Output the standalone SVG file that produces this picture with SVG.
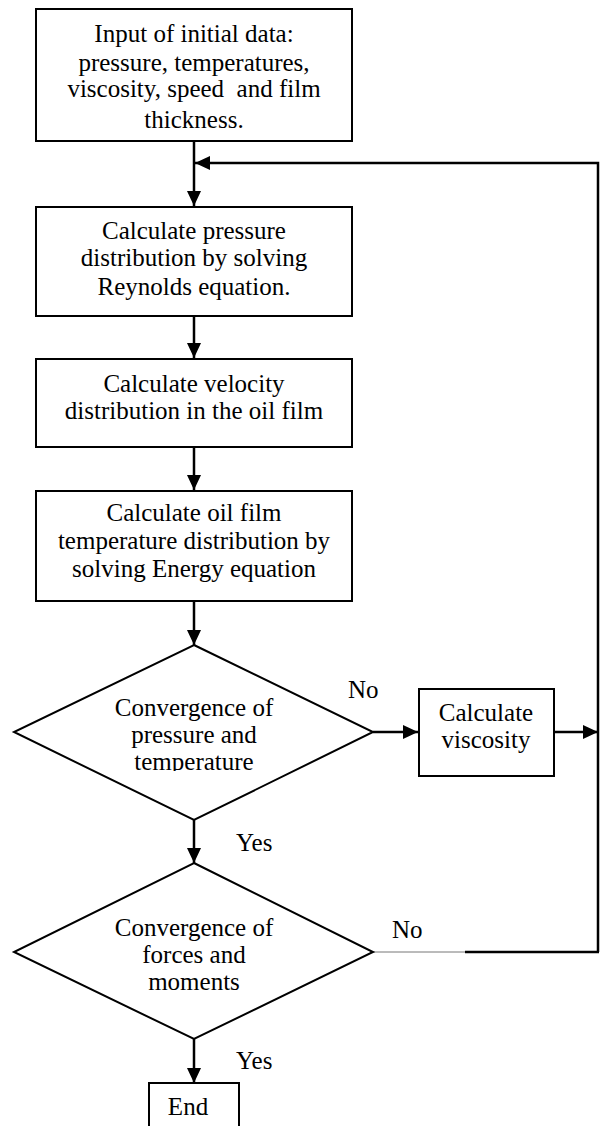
<svg xmlns="http://www.w3.org/2000/svg" width="602" height="1126" viewBox="0 0 602 1126">
<style>
.box{fill:#fff;stroke:#000;stroke-width:2}
.t{font-family:"Liberation Serif","Times New Roman",serif;font-size:25px;fill:#000;text-anchor:middle}
.l{font-family:"Liberation Serif","Times New Roman",serif;font-size:25px;fill:#000}
.c{fill:none;stroke:#000;stroke-width:2.5}
</style>
<defs>
<marker id="ah" markerUnits="userSpaceOnUse" markerWidth="16" markerHeight="14" refX="15" refY="7" orient="auto">
<path d="M0,0 L15,7 L0,14 Z" fill="#000"/>
</marker>
<clipPath id="clipT"><rect x="0" y="640" width="400" height="131"/></clipPath>
</defs>
<rect width="602" height="1126" fill="#fff"/>
<g id="connectors">
<line class="c" x1="194" y1="141" x2="194" y2="206" marker-end="url(#ah)"/>
<polyline class="c" points="598,952 598,163 195,163" marker-end="url(#ah)"/>
<line class="c" x1="194" y1="316" x2="194" y2="358" marker-end="url(#ah)"/>
<line class="c" x1="194" y1="447" x2="194" y2="490" marker-end="url(#ah)"/>
<line class="c" x1="194" y1="601" x2="194" y2="645" marker-end="url(#ah)"/>
<line class="c" x1="373" y1="732" x2="418" y2="732" marker-end="url(#ah)"/>
<line class="c" x1="554" y1="732" x2="598" y2="732" marker-end="url(#ah)"/>
<line class="c" x1="194" y1="820" x2="194" y2="863" marker-end="url(#ah)"/>
<line class="c" x1="194" y1="1039" x2="194" y2="1083" marker-end="url(#ah)"/>
<line x1="373" y1="952" x2="465" y2="952" stroke="#777" stroke-width="1"/>
<line class="c" x1="465" y1="952" x2="599" y2="952"/>
<text class="l" x="348" y="698">No</text>
<text class="l" x="392" y="938">No</text>
<text class="l" x="236" y="851">Yes</text>
<text class="l" x="236" y="1069">Yes</text>
</g>
<g id="input">
<rect class="box" x="36" y="9" width="316" height="132"/>
<text class="t" x="194" y="42">Input of initial data:</text>
<text class="t" x="194" y="71">pressure, temperatures,</text>
<text class="t" x="194" y="97" style="white-space:pre">viscosity, speed  and film</text>
<text class="t" x="194" y="128">thickness.</text>
</g>
<g id="pressure">
<rect class="box" x="36" y="207" width="316" height="109"/>
<text class="t" x="194" y="239">Calculate pressure</text>
<text class="t" x="194" y="266">distribution by solving</text>
<text class="t" x="194" y="295">Reynolds equation.</text>
</g>
<g id="velocity">
<rect class="box" x="36" y="359" width="316" height="88"/>
<text class="t" x="194" y="392">Calculate velocity</text>
<text class="t" x="194" y="419">distribution in the oil film</text>
</g>
<g id="temperature">
<rect class="box" x="36" y="491" width="316" height="110"/>
<text class="t" x="194" y="521">Calculate oil film</text>
<text class="t" x="194" y="549">temperature distribution by</text>
<text class="t" x="194" y="577">solving Energy equation</text>
</g>
<g id="conv1">
<polygon class="box" points="194,645 373,732 194,820 14,732"/>
<g clip-path="url(#clipT)">
<text class="t" x="194" y="716">Convergence of</text>
<text class="t" x="194" y="743">pressure and</text>
<text class="t" x="194" y="770">temperature</text>
</g>
</g>
<g id="viscosity">
<rect class="box" x="419" y="689" width="135" height="87"/>
<text class="t" x="486" y="721">Calculate</text>
<text class="t" x="486" y="748">viscosity</text>
</g>
<g id="conv2">
<polygon class="box" points="194,863 373,952 194,1039 14,952"/>
<text class="t" x="194" y="936">Convergence of</text>
<text class="t" x="194" y="963">forces and</text>
<text class="t" x="194" y="990">moments</text>
</g>
<g id="end">
<rect class="box" x="149" y="1083" width="90" height="60"/>
<text class="t" x="188" y="1115">End</text>
</g>
</svg>
